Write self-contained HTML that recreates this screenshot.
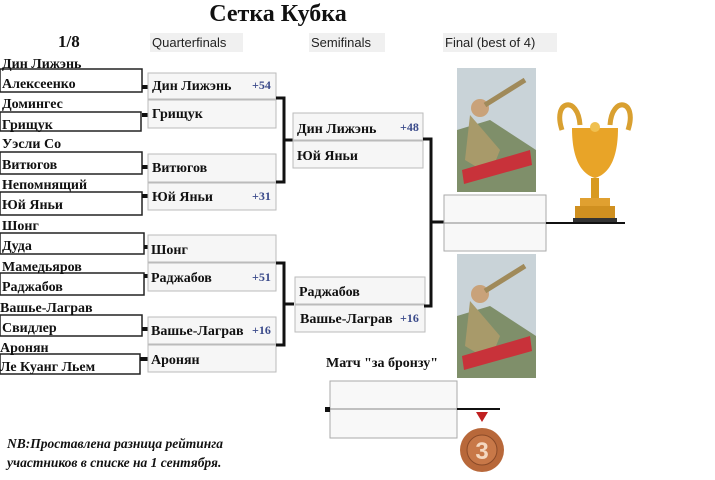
<!DOCTYPE html>
<html><head><meta charset="utf-8"><style>
body{margin:0;background:#fff}
svg{display:block}
.n{font-family:"Liberation Serif",serif;font-weight:bold;font-size:14px;fill:#111}
.s{font-family:"Liberation Sans",sans-serif;font-size:13px;fill:#222}
.r{font-family:"Liberation Serif",serif;font-weight:bold;font-size:12px;fill:#3a4a8a}
</style></head><body>
<svg width="715" height="480" viewBox="0 0 715 480" xmlns="http://www.w3.org/2000/svg">
<rect width="715" height="480" fill="#fff"/>
<text x="278" y="21" text-anchor="middle" font-family="Liberation Serif,serif" font-weight="bold" font-size="24" fill="#111">Сетка Кубка</text>
<text x="58" y="47" font-family="Liberation Serif,serif" font-weight="bold" font-size="17" fill="#111">1/8</text>
<rect x="150" y="33" width="93" height="19" fill="#f0f0f0"/><text x="152" y="47" class="s">Quarterfinals</text>
<rect x="309" y="33" width="76" height="19" fill="#f0f0f0"/><text x="311" y="47" class="s">Semifinals</text>
<rect x="443" y="33" width="114" height="19" fill="#f0f0f0"/><text x="445" y="47" class="s">Final (best of 4)</text>

<g fill="#fff" stroke="#222" stroke-width="1.5">
<rect x="0" y="69" width="142" height="23"/>
<rect x="0" y="112" width="141" height="19"/>
<rect x="0" y="152" width="142" height="22"/>
<rect x="0" y="192" width="142" height="23"/>
<rect x="0" y="233" width="144" height="21"/>
<rect x="0" y="273" width="144" height="22"/>
<rect x="0" y="315" width="142" height="21"/>
<rect x="0" y="354" width="140" height="20"/>
</g>
<g class="n">
<text x="2" y="68">Дин Лижэнь</text><text x="2" y="88">Алексеенко</text>
<text x="2" y="108">Домингес</text><text x="2" y="129">Грищук</text>
<text x="2" y="148">Уэсли Со</text><text x="2" y="169">Витюгов</text>
<text x="2" y="189">Непомнящий</text><text x="2" y="209">Юй Яньи</text>
<text x="2" y="230">Шонг</text><text x="2" y="250">Дуда</text>
<text x="2" y="271">Мамедьяров</text><text x="2" y="291">Раджабов</text>
<text x="0" y="312">Вашье-Лаграв</text><text x="2" y="332">Свидлер</text>
<text x="0" y="352">Аронян</text><text x="0" y="371">Ле Куанг Льем</text>
</g>
<g fill="#111">
<rect x="142" y="85" width="6" height="4"/><rect x="142" y="113" width="6" height="4"/>
<rect x="142" y="165" width="6" height="4"/><rect x="142" y="194" width="6" height="4"/>
<rect x="144" y="245" width="6" height="4"/><rect x="144" y="274" width="6" height="4"/>
<rect x="142" y="327" width="7" height="4"/><rect x="140" y="357" width="8" height="4"/>
</g>

<g fill="#f6f6f6" stroke="#bbb" stroke-width="1">
<rect x="148" y="73" width="128" height="26"/><rect x="148" y="100" width="128" height="28"/>
<rect x="148" y="154" width="128" height="28"/><rect x="148" y="183" width="128" height="27"/>
<rect x="148" y="235" width="128" height="27"/><rect x="148" y="263" width="128" height="28"/>
<rect x="148" y="317" width="128" height="27"/><rect x="148" y="345" width="128" height="27"/>
</g>
<g class="n">
<text x="152" y="90">Дин Лижэнь</text><text x="152" y="118">Грищук</text>
<text x="152" y="172">Витюгов</text><text x="152" y="201">Юй Яньи</text>
<text x="151" y="254">Шонг</text><text x="151" y="282">Раджабов</text>
<text x="151" y="335">Вашье-Лаграв</text><text x="151" y="364">Аронян</text>
</g>
<g class="r"><text x="252" y="89">+54</text><text x="252" y="200">+31</text><text x="252" y="281">+51</text><text x="252" y="334">+16</text></g>
<g fill="none" stroke="#111" stroke-width="3">
<path d="M276 98 H284 V182 H276"/><path d="M284 140 H294"/>
<path d="M276 263 H284 V345 H276"/><path d="M284 304 H294"/>
</g>

<g fill="#f6f6f6" stroke="#bbb" stroke-width="1">
<rect x="293" y="113" width="130" height="27"/><rect x="293" y="141" width="130" height="27"/>
<rect x="295" y="277" width="130" height="27"/><rect x="295" y="305" width="130" height="27"/>
</g>
<g class="n"><text x="297" y="133">Дин Лижэнь</text><text x="297" y="160">Юй Яньи</text>
<text x="299" y="296">Раджабов</text><text x="300" y="323">Вашье-Лаграв</text></g>
<g class="r"><text x="400" y="131">+48</text><text x="400" y="322">+16</text></g>
<g fill="none" stroke="#111" stroke-width="3">
<path d="M423 139 H431 V306 H424"/><path d="M431 222 H444"/>
</g>

<rect x="444" y="195" width="102" height="56" fill="#f8f8f8" stroke="#aaa"/>
<line x1="444" y1="223" x2="546" y2="223" stroke="#888"/>
<line x1="546" y1="223" x2="625" y2="223" stroke="#111" stroke-width="2"/>

<g>
<rect x="457" y="68" width="79" height="124" fill="#c9d3d8"/>
<path d="M457 130 L490 120 L536 150 V192 H457Z" fill="#7f8f6a"/>
<circle cx="480" cy="108" r="9" fill="#c9a27a"/><path d="M470 115 L500 150 L490 175 L465 160Z" fill="#a89a6a"/>
<path d="M485 105 L525 80" stroke="#a08a5a" stroke-width="5"/>
<path d="M462 170 L530 150 L532 165 L464 184Z" fill="#c8323a"/>
<rect x="457" y="254" width="79" height="124" fill="#c9d3d8"/>
<path d="M457 316 L490 306 L536 336 V378 H457Z" fill="#7f8f6a"/>
<circle cx="480" cy="294" r="9" fill="#c9a27a"/><path d="M470 301 L500 336 L490 361 L465 346Z" fill="#a89a6a"/>
<path d="M485 291 L525 266" stroke="#a08a5a" stroke-width="5"/>
<path d="M462 356 L530 336 L532 351 L464 370Z" fill="#c8323a"/>
</g>
<g>
<path d="M562 130 C552 100 578 95 580 125" fill="none" stroke="#d9a030" stroke-width="5"/>
<path d="M628 130 C638 100 612 95 610 125" fill="none" stroke="#d9a030" stroke-width="5"/>
<path d="M572 128 H618 C618 165 605 175 595 178 C585 175 572 165 572 128Z" fill="#e8a428"/>
<circle cx="595" cy="127" r="5" fill="#f0c050"/>
<rect x="591" y="178" width="8" height="20" fill="#d89a20"/>
<rect x="580" y="198" width="30" height="8" fill="#e0a030"/>
<rect x="575" y="206" width="40" height="12" fill="#d09020"/>
<rect x="573" y="218" width="44" height="4" fill="#333"/>
</g>

<text x="326" y="367" font-family="Liberation Serif,serif" font-weight="bold" font-size="14" fill="#111">Матч "за бронзу"</text>
<rect x="330" y="381" width="127" height="57" fill="#f8f8f8" stroke="#aaa"/>
<line x1="330" y1="409" x2="457" y2="409" stroke="#888"/>
<rect x="325" y="407" width="5" height="5" fill="#111"/>
<line x1="457" y1="409" x2="500" y2="409" stroke="#111" stroke-width="2"/>
<path d="M476 412 L488 412 L482 422Z" fill="#c02020"/>
<circle cx="482" cy="450" r="22" fill="#b8683a"/>
<circle cx="482" cy="450" r="15" fill="#c87848" stroke="#8a4a28"/>
<text x="482" y="459" text-anchor="middle" font-family="Liberation Sans,sans-serif" font-weight="bold" font-size="24" fill="#f4d8c0">3</text>

<g font-family="Liberation Serif,serif" font-weight="bold" font-style="italic" font-size="13.5" fill="#111">
<text x="7" y="448">NB:Проставлена разница рейтинга</text>
<text x="7" y="467">участников в списке на 1 сентября.</text>
</g>
</svg>
</body></html>
